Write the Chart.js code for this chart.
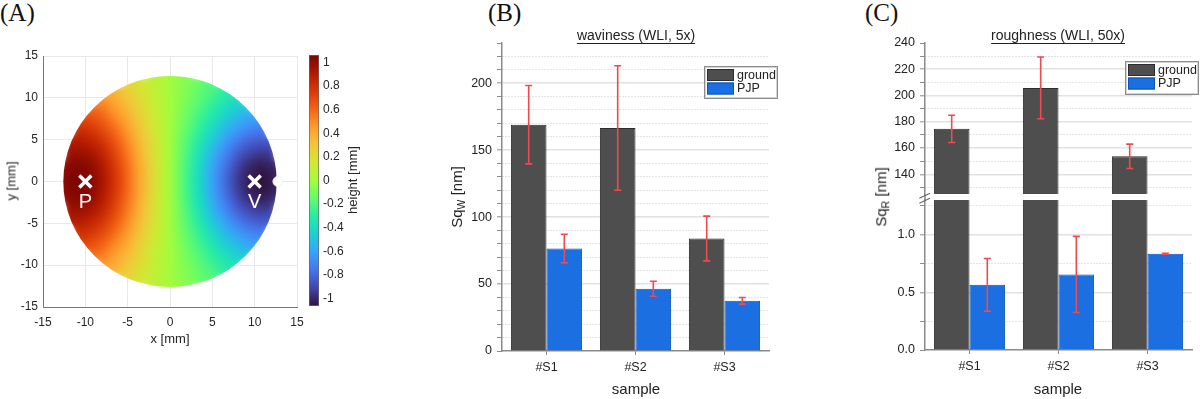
<!DOCTYPE html>
<html>
<head>
<meta charset="utf-8">
<script src="https://cdn.jsdelivr.net/npm/chart.js@4.4.0/dist/chart.umd.min.js"></script>
<style>
    body { margin: 0; background: #fff; }
    #wrap { position: relative; width: 1200px; height: 399px; overflow: hidden; font-family: "Liberation Sans", Arial, sans-serif; color: #222; }
    canvas { position: absolute; }
    .txt { position: absolute; white-space: nowrap; transform: translate(-50%, -50%); line-height: 1; }
    .rot { transform: translate(-50%, -50%) rotate(-90deg); }
    .panel { position: absolute; font-family: "Liberation Serif", "Times New Roman", serif; font-size: 25px; line-height: 1; color: #111; }
    .title { font-size: 14px; text-decoration: underline; text-underline-offset: 3px; }
    .axt { font-size: 15px; }
    .axa { font-size: 13px; color: #262626; }
    sub { font-size: 70%; vertical-align: -3px; }
</style>
</head>
<body>
<div id="wrap">
    <canvas id="cA" width="312" height="290" style="left:0;top:44px"></canvas>
    <canvas id="cBar" width="100" height="290" style="left:300px;top:44px"></canvas>
    <canvas id="cB" width="345" height="369" style="left:440px;top:30px"></canvas>
    <canvas id="cC1" width="340" height="170" style="left:860px;top:30px"></canvas>
    <canvas id="cC2" width="340" height="209" style="left:860px;top:190px"></canvas>

    <div class="panel" style="left:0;top:0">(A)</div>
    <div class="panel" style="left:488px;top:0">(B)</div>
    <div class="panel" style="left:865px;top:0">(C)</div>

    <div class="txt axa rot" style="left:11px;top:181px">y [mm]</div>
    <div class="txt axa" style="left:170px;top:338px">x [mm]</div>
    <div class="txt axa rot" style="left:352px;top:180px">height [mm]</div>

    <div class="txt title" style="left:636px;top:35px">waviness (WLI, 5x)</div>
    <div class="txt axt rot" style="left:458px;top:197px">Sq<sub>W</sub> [nm]</div>
    <div class="txt axt" style="left:636px;top:388px">sample</div>

    <div class="txt title" style="left:1058px;top:35px">roughness (WLI, 50x)</div>
    <div class="txt axt rot" style="left:882px;top:197px">Sq<sub>R</sub> [nm]</div>
    <div class="txt axt" style="left:1058px;top:388px">sample</div>
</div>

<script>
// ---- panel A: wafer height map, rows from y = 13 mm down to y = -13 mm, 1 mm grid, centred on x = 0
const gridTop = 13;
const gridStep = 1;
const waferRadius = 12.6;
const heightRows = [
    [0.08, 0.04, 0, -0.03, -0.07],
    [0.24, 0.19, 0.14, 0.09, 0.05, 0, -0.04, -0.07, -0.11, -0.15, -0.19],
    [0.37, 0.32, 0.27, 0.21, 0.16, 0.10, 0.05, 0, -0.04, -0.08, -0.13, -0.17, -0.21, -0.26, -0.30],
    [0.47, 0.42, 0.36, 0.30, 0.24, 0.18, 0.12, 0.06, 0, -0.05, -0.09, -0.14, -0.19, -0.24, -0.29, -0.34, -0.38],
    [0.57, 0.53, 0.47, 0.40, 0.34, 0.27, 0.20, 0.13, 0.06, 0, -0.05, -0.11, -0.16, -0.22, -0.28, -0.34, -0.39, -0.44, -0.48],
    [0.67, 0.64, 0.59, 0.52, 0.45, 0.38, 0.30, 0.22, 0.14, 0.07, 0, -0.06, -0.12, -0.19, -0.25, -0.32, -0.38, -0.45, -0.50, -0.55, -0.58],
    [0.76, 0.74, 0.70, 0.65, 0.58, 0.50, 0.42, 0.33, 0.24, 0.16, 0.08, 0, -0.07, -0.14, -0.21, -0.29, -0.36, -0.44, -0.51, -0.57, -0.62, -0.65, -0.67],
    [0.82, 0.81, 0.77, 0.71, 0.64, 0.55, 0.46, 0.36, 0.27, 0.17, 0.09, 0, -0.08, -0.16, -0.24, -0.32, -0.41, -0.50, -0.58, -0.64, -0.70, -0.73, -0.75],
    [0.88, 0.89, 0.87, 0.83, 0.77, 0.69, 0.60, 0.50, 0.39, 0.29, 0.19, 0.09, 0, -0.09, -0.18, -0.27, -0.36, -0.46, -0.55, -0.64, -0.72, -0.78, -0.81, -0.83, -0.82],
    [0.93, 0.94, 0.93, 0.89, 0.83, 0.74, 0.64, 0.53, 0.42, 0.31, 0.20, 0.10, 0, -0.10, -0.19, -0.29, -0.40, -0.51, -0.61, -0.71, -0.79, -0.85, -0.89, -0.90, -0.89],
    [0.98, 0.99, 0.98, 0.94, 0.87, 0.78, 0.67, 0.56, 0.44, 0.32, 0.21, 0.10, 0, -0.10, -0.21, -0.32, -0.43, -0.54, -0.66, -0.76, -0.85, -0.91, -0.95, -0.97, -0.95],
    [0.97, 1.01, 1.03, 1.02, 0.98, 0.91, 0.81, 0.70, 0.58, 0.46, 0.34, 0.22, 0.11, 0, -0.11, -0.22, -0.33, -0.45, -0.58, -0.69, -0.80, -0.90, -0.97, -1.01, -1.02, -1.00, -0.96],
    [0.99, 1.03, 1.05, 1.04, 1.00, 0.93, 0.83, 0.72, 0.60, 0.47, 0.35, 0.23, 0.11, 0, -0.11, -0.23, -0.34, -0.47, -0.59, -0.72, -0.83, -0.93, -1.00, -1.04, -1.05, -1.03, -0.99],
    [1.00, 1.04, 1.06, 1.05, 1.01, 0.94, 0.84, 0.73, 0.60, 0.47, 0.35, 0.23, 0.11, 0, -0.11, -0.23, -0.35, -0.47, -0.60, -0.73, -0.84, -0.94, -1.01, -1.05, -1.06, -1.04, -1.00],
    [0.99, 1.03, 1.05, 1.04, 1.00, 0.93, 0.83, 0.72, 0.60, 0.47, 0.35, 0.23, 0.11, 0, -0.11, -0.23, -0.34, -0.47, -0.59, -0.72, -0.83, -0.93, -1.00, -1.04, -1.05, -1.03, -0.99],
    [0.97, 1.01, 1.03, 1.02, 0.98, 0.91, 0.81, 0.70, 0.58, 0.46, 0.34, 0.22, 0.11, 0, -0.11, -0.22, -0.33, -0.45, -0.58, -0.69, -0.80, -0.90, -0.97, -1.01, -1.02, -1.00, -0.96],
    [0.98, 0.99, 0.98, 0.94, 0.87, 0.78, 0.67, 0.56, 0.44, 0.32, 0.21, 0.10, 0, -0.10, -0.21, -0.32, -0.43, -0.54, -0.66, -0.76, -0.85, -0.91, -0.95, -0.97, -0.95],
    [0.93, 0.94, 0.93, 0.89, 0.83, 0.74, 0.64, 0.53, 0.42, 0.31, 0.20, 0.10, 0, -0.10, -0.19, -0.29, -0.40, -0.51, -0.61, -0.71, -0.79, -0.85, -0.89, -0.90, -0.89],
    [0.88, 0.89, 0.87, 0.83, 0.77, 0.69, 0.60, 0.50, 0.39, 0.29, 0.19, 0.09, 0, -0.09, -0.18, -0.27, -0.36, -0.46, -0.55, -0.64, -0.72, -0.78, -0.81, -0.83, -0.82],
    [0.82, 0.81, 0.77, 0.71, 0.64, 0.55, 0.46, 0.36, 0.27, 0.17, 0.09, 0, -0.08, -0.16, -0.24, -0.32, -0.41, -0.50, -0.58, -0.64, -0.70, -0.73, -0.75],
    [0.76, 0.74, 0.70, 0.65, 0.58, 0.50, 0.42, 0.33, 0.24, 0.16, 0.08, 0, -0.07, -0.14, -0.21, -0.29, -0.36, -0.44, -0.51, -0.57, -0.62, -0.65, -0.67],
    [0.67, 0.64, 0.59, 0.52, 0.45, 0.38, 0.30, 0.22, 0.14, 0.07, 0, -0.06, -0.12, -0.19, -0.25, -0.32, -0.38, -0.45, -0.50, -0.55, -0.58],
    [0.57, 0.53, 0.47, 0.40, 0.34, 0.27, 0.20, 0.13, 0.06, 0, -0.05, -0.11, -0.16, -0.22, -0.28, -0.34, -0.39, -0.44, -0.48],
    [0.47, 0.42, 0.36, 0.30, 0.24, 0.18, 0.12, 0.06, 0, -0.05, -0.09, -0.14, -0.19, -0.24, -0.29, -0.34, -0.38],
    [0.37, 0.32, 0.27, 0.21, 0.16, 0.10, 0.05, 0, -0.04, -0.08, -0.13, -0.17, -0.21, -0.26, -0.30],
    [0.24, 0.19, 0.14, 0.09, 0.05, 0, -0.04, -0.07, -0.11, -0.15, -0.19],
    [0.08, 0.04, 0, -0.03, -0.07]
];
const markerX = [-10, 10];
const markerLabels = ["P", "V"];
const markerLabelY = -2.5;
const notchX = 12.75;
const colorMin = -1.063;
const colorMax = 1.063;
const turboColors = ["#30123b", "#4145ab", "#4675ed", "#39a2fc", "#1bcfd4", "#24eca6", "#61fc6c", "#a4fc3b",
    "#d1e834", "#f3c63a", "#fe9b2d", "#f36315", "#d93806", "#b11901", "#7a0403"];

// ---- panel B / C: bar values and error half-widths
const samples = ["#S1", "#S2", "#S3"];
const wavGround = [169, 166.5, 84];
const wavGroundErr = [29.3, 46.5, 16.7];
const wavPjp = [76.5, 46.5, 37.5];
const wavPjpErr = [10.7, 5.6, 2.5];
const wavRange = [0, 230];

const rouGround = [174.6, 205.8, 153.7];
const rouGroundErr = [10.4, 23.5, 9.3];
const rouPjp = [0.565, 0.655, 0.835];
const rouPjpErr = [0.228, 0.33, 0.004];
const rouUpperRange = [125, 240];
const rouLowerRange = [0, 1.3];

const groundFill = "#4e4e4e", groundEdge = "#2c2c2c";
const pjpFill = "#1b6fe0", pjpEdge = "#0d53bd";
const errColor = "#ee4a4f";
const axisGrey = "#8a8a8a";

Chart.defaults.font.family = '"Liberation Sans", Arial, sans-serif';
Chart.defaults.color = "#222";

function hexRgb(h) {
    return [parseInt(h.slice(1, 3), 16), parseInt(h.slice(3, 5), 16), parseInt(h.slice(5, 7), 16)];
}

function turbo(v) {
    let t = (v - colorMin) / (colorMax - colorMin);
    t = Math.min(1, Math.max(0, t)) * (turboColors.length - 1);
    let i = Math.min(turboColors.length - 2, Math.floor(t));
    let f = t - i;
    let a = hexRgb(turboColors[i]), b = hexRgb(turboColors[i + 1]);
    let c = a.map((x, k) => Math.round(x + (b[k] - x) * f));
    return `rgb(${c[0]},${c[1]},${c[2]})`;
}

function near(v, step) {
    return Math.abs(v / step - Math.round(v / step)) < 1e-6;
}

// fixed axis size, no extra room for edge labels
function fixSize(s, w, h) {
    if (w !== undefined) s.width = w;
    if (h !== undefined) s.height = h;
    s.paddingLeft = 0; s.paddingRight = 0; s.paddingTop = 0; s.paddingBottom = 0;
}

let heatPoints = [];
heightRows.forEach((row, r) => {
    let y = gridTop - r * gridStep;
    let x0 = -(row.length - 1) / 2 * gridStep;
    row.forEach((v, c) => heatPoints.push({ x: x0 + c * gridStep, y: y, v: v }));
});

// the map cells are drawn by Chart.js, then softened and cut to the wafer outline
const waferClip = {
    id: "waferClip",
    beforeDatasetDraw(chart, args) {
        let ds = chart.data.datasets[args.index];
        if (!ds.waferRadius) return;
        let c = chart.canvas;
        let bg = document.createElement("canvas");
        bg.width = c.width; bg.height = c.height;
        bg.getContext("2d").drawImage(c, 0, 0);
        chart.$bgLayer = bg;
    },
    afterDatasetDraw(chart, args, opts) {
        let ds = chart.data.datasets[args.index];
        if (!ds.waferRadius) return;
        let c = chart.canvas, ctx = chart.ctx, dpr = chart.currentDevicePixelRatio || 1;
        let cells = document.createElement("canvas");
        cells.width = c.width; cells.height = c.height;
        cells.getContext("2d").drawImage(c, 0, 0);

        let xs = chart.scales.x, ys = chart.scales.y;
        let cx = xs.getPixelForValue(0), cy = ys.getPixelForValue(0);
        let rx = xs.getPixelForValue(ds.waferRadius) - cx;
        let ry = cy - ys.getPixelForValue(ds.waferRadius);

        ctx.save();
        ctx.setTransform(1, 0, 0, 1, 0, 0);
        ctx.clearRect(0, 0, c.width, c.height);
        ctx.drawImage(chart.$bgLayer, 0, 0);
        ctx.beginPath();
        ctx.ellipse(cx * dpr, cy * dpr, rx * dpr, ry * dpr, 0, 0, Math.PI * 2);
        ctx.clip();
        ctx.filter = "blur(" + (opts.blur * dpr) + "px)";
        ctx.drawImage(cells, 0, 0);
        ctx.restore();
    }
};

const markerText = {
    id: "markerText",
    afterDatasetsDraw(chart, args, opts) {
        let xs = chart.scales.x, ys = chart.scales.y, ctx = chart.ctx;
        ctx.save();
        ctx.fillStyle = "#fff";
        ctx.font = '20px "Liberation Sans", Arial, sans-serif';
        ctx.textAlign = "center";
        ctx.textBaseline = "middle";
        opts.x.forEach((x, i) => {
            ctx.fillText(opts.labels[i], xs.getPixelForValue(x), ys.getPixelForValue(opts.y));
        });
        ctx.restore();
    }
};

new Chart(document.getElementById("cA"), {
    type: "scatter",
    data: {
        datasets: [
            {
                data: markerX.map(x => ({ x: x, y: 0 })),
                order: 1,
                pointStyle: "crossRot",
                pointRadius: 8.5,
                borderColor: "#fff",
                pointBorderWidth: 3.5
            },
            {
                data: [{ x: notchX, y: 0 }],
                order: 2,
                pointStyle: "circle",
                pointRadius: 5,
                backgroundColor: "#fff",
                borderColor: "#f2f2f2",
                pointBorderWidth: 1
            },
            {
                data: heatPoints,
                order: 3,
                waferRadius: waferRadius,
                pointStyle: "rect",
                pointBorderWidth: 0,
                pointRadius: ctx => {
                    let xs = ctx.chart.scales.x;
                    return Math.abs(xs.getPixelForValue(gridStep) - xs.getPixelForValue(0)) * 0.78;
                },
                pointBackgroundColor: ctx => ctx.raw ? turbo(ctx.raw.v) : "#fff"
            }
        ]
    },
    options: {
        responsive: false,
        animation: false,
        events: [],
        layout: { padding: { top: 10, right: 15, left: 0, bottom: 0 } },
        plugins: {
            legend: { display: false },
            tooltip: { enabled: false },
            markerText: { x: markerX, labels: markerLabels, y: markerLabelY },
            waferClip: { blur: 3.5 }
        },
        scales: {
            x: {
                min: -15, max: 15,
                afterFit: s => fixSize(s, undefined, 27),
                ticks: { stepSize: 5, padding: 8, color: "#262626", font: { size: 12 } },
                grid: { color: "#e8e8e8", drawTicks: false },
                border: { color: "#777", width: 1 }
            },
            y: {
                min: -15, max: 15,
                afterFit: s => fixSize(s, 43),
                ticks: { stepSize: 5, padding: 5, color: "#262626", font: { size: 12 } },
                grid: { color: "#e8e8e8", drawTicks: false },
                border: { color: "#777", width: 1 }
            }
        }
    },
    plugins: [waferClip, markerText]
});

// colour bar as a single floating bar with the turbo gradient
new Chart(document.getElementById("cBar"), {
    type: "bar",
    data: {
        labels: ["height"],
        datasets: [{
            data: [[colorMin, colorMax]],
            categoryPercentage: 1,
            barPercentage: 1,
            borderWidth: 1,
            borderColor: "#666",
            borderSkipped: false,
            backgroundColor: ctx => {
                let ca = ctx.chart.chartArea;
                if (!ca) return "#888";
                let g = ctx.chart.ctx.createLinearGradient(0, ca.bottom, 0, ca.top);
                turboColors.forEach((c, i) => g.addColorStop(i / (turboColors.length - 1), c));
                return g;
            }
        }]
    },
    options: {
        responsive: false,
        animation: false,
        events: [],
        layout: { padding: { top: 11, left: 9, right: 0, bottom: 28 } },
        plugins: { legend: { display: false }, tooltip: { enabled: false } },
        scales: {
            x: { display: false },
            y: {
                position: "right",
                min: colorMin, max: colorMax,
                afterFit: s => fixSize(s, 81),
                grid: { display: false, drawTicks: false },
                border: { display: false },
                ticks: {
                    stepSize: 0.2,
                    includeBounds: false,
                    padding: 4,
                    color: "#262626",
                    font: { size: 12 },
                    callback: v => near(v, 0.2) ? String(Math.round(v * 10) / 10) : ""
                }
            }
        }
    }
});

// ---- bar chart helpers
const errorBars = {
    id: "errorBars",
    afterDatasetsDraw(chart) {
        let ctx = chart.ctx, ys = chart.scales.y;
        chart.data.datasets.forEach((ds, i) => {
            if (!ds.errors) return;
            let meta = chart.getDatasetMeta(i);
            meta.data.forEach((bar, j) => {
                let m = ds.data[j], e = ds.errors[j];
                if (m < ys.min || m > ys.max) return;
                let top = ys.getPixelForValue(m + e), bot = ys.getPixelForValue(m - e);
                ctx.save();
                ctx.strokeStyle = errColor;
                ctx.lineWidth = 1.6;
                ctx.beginPath();
                ctx.moveTo(bar.x, top); ctx.lineTo(bar.x, bot);
                ctx.moveTo(bar.x - 3.5, top); ctx.lineTo(bar.x + 3.5, top);
                ctx.moveTo(bar.x - 3.5, bot); ctx.lineTo(bar.x + 3.5, bot);
                ctx.stroke();
                ctx.restore();
            });
        });
    }
};

const boxLegend = {
    id: "boxLegend",
    afterDraw(chart, args, o) {
        if (!o.show) return;
        let ctx = chart.ctx, ca = chart.chartArea;
        let left = Math.round(ca.right + o.dx), top = Math.round(ca.top + o.dy);
        ctx.save();
        ctx.fillStyle = "#fff";
        ctx.fillRect(left, top, o.w, o.h);
        ctx.lineWidth = 1;
        ctx.strokeStyle = "#8c8c8c";
        ctx.strokeRect(left + 0.5, top + 0.5, o.w, o.h);
        ctx.strokeStyle = "#d4d4d4";
        ctx.strokeRect(left + 1.5, top + 1.5, o.w - 2, o.h - 2);
        ctx.font = '12.5px "Liberation Sans", Arial, sans-serif';
        ctx.textBaseline = "middle";
        chart.data.datasets.forEach((ds, i) => {
            let y = top + 3 + i * 13.5;
            ctx.fillStyle = ds.backgroundColor;
            ctx.fillRect(left + 3, y, 27, 12);
            ctx.strokeStyle = ds.borderColor;
            ctx.strokeRect(left + 3.5, y + 0.5, 26, 11);
            ctx.fillStyle = "#222";
            ctx.fillText(ds.label, left + 33, y + 6.5);
        });
        ctx.restore();
    }
};

const axisBreak = {
    id: "axisBreak",
    afterDraw(chart, args, o) {
        if (!o.show) return;
        let ctx = chart.ctx, ca = chart.chartArea;
        let x = ca.left, y = ca.top;
        ctx.save();
        ctx.strokeStyle = axisGrey;
        ctx.lineWidth = 1.5;
        ctx.beginPath();
        ctx.moveTo(x, y - o.gap); ctx.lineTo(x, y);
        ctx.stroke();
        ctx.strokeStyle = "#666";
        ctx.lineWidth = 1.1;
        ctx.beginPath();
        ctx.moveTo(x - 5.7, y - 1.7); ctx.lineTo(x + 5, y - 6.7);
        ctx.moveTo(x - 5.7, y + 3.3); ctx.lineTo(x + 5, y - 1.7);
        ctx.stroke();
        ctx.restore();
    }
};

function makeDatasets(ground, groundErr, pjp, pjpErr) {
    return [
        { label: "ground", data: ground, errors: groundErr, backgroundColor: groundFill, borderColor: groundEdge, borderWidth: 1, clip: 0 },
        { label: "PJP", data: pjp, errors: pjpErr, backgroundColor: pjpFill, borderColor: pjpEdge, borderWidth: 1, clip: 0 }
    ];
}

// y axis with labelled major ticks, dotted minor grid, minor tick marks
function yAxis(range, step, major, minLabel, fmt, width) {
    let isMinor = v => near(v, step) && v > range[0] && v < range[1];
    let isMajor = v => isMinor(v) && near(v, major) && v >= minLabel;
    return {
        min: range[0], max: range[1],
        afterFit: s => fixSize(s, width),
        ticks: {
            stepSize: step,
            includeBounds: false,
            padding: 5,
            color: "#222",
            font: { size: 12.5 },
            autoSkip: false,
            callback: v => (near(v, major) && v >= minLabel) ? fmt(v) : ""
        },
        grid: {
            color: c => !c.tick ? "transparent" : isMajor(c.tick.value) ? "#e2e2e2" : isMinor(c.tick.value) ? "#c9c9c9" : "transparent",
            lineWidth: c => c.tick && isMajor(c.tick.value) ? 1.6 : 1,
            tickColor: c => c.tick && near(c.tick.value, step) ? axisGrey : "transparent",
            tickLength: 5,
            tickWidth: 1
        },
        border: {
            color: axisGrey,
            width: 1.5,
            dash: c => c.tick && !isMajor(c.tick.value) ? [1, 2] : []
        }
    };
}

function xAxis(show, height) {
    if (!show) return { display: false };
    return {
        afterFit: s => fixSize(s, undefined, height),
        ticks: { padding: 5, color: "#222", font: { size: 12.5 } },
        grid: { offset: false, drawOnChartArea: false, tickLength: 4, tickColor: axisGrey },
        border: { color: axisGrey, width: 1.5 }
    };
}

function barOptions(y, x, padding, extra) {
    return {
        responsive: false,
        animation: false,
        events: [],
        layout: { padding: padding },
        datasets: { bar: { categoryPercentage: 0.8, barPercentage: 1.0 } },
        plugins: Object.assign({ legend: { display: false }, tooltip: { enabled: false } }, extra),
        scales: { x: x, y: y }
    };
}

// ---- panel B
new Chart(document.getElementById("cB"), {
    type: "bar",
    data: { labels: samples, datasets: makeDatasets(wavGround, wavGroundErr, wavPjp, wavPjpErr) },
    options: barOptions(
        yAxis(wavRange, 10, 50, 0, v => String(v), 62),
        xAxis(true, 48),
        { top: 13, right: 16, left: 0, bottom: 0 },
        { boxLegend: { show: true, dx: -65, dy: 23, w: 73, h: 32 } }
    ),
    plugins: [errorBars, boxLegend]
});

// ---- panel C, upper segment (ground) and lower segment (PJP)
new Chart(document.getElementById("cC1"), {
    type: "bar",
    data: { labels: samples, datasets: makeDatasets(rouGround, rouGroundErr, rouPjp, rouPjpErr) },
    options: barOptions(
        yAxis(rouUpperRange, 10, 20, 140, v => String(v), 65),
        xAxis(false),
        { top: 13, right: 8, left: 0, bottom: 6 },
        { boxLegend: { show: true, dx: -67, dy: 18, w: 73, h: 33 } }
    ),
    plugins: [errorBars, boxLegend]
});

new Chart(document.getElementById("cC2"), {
    type: "bar",
    data: { labels: samples, datasets: makeDatasets(rouGround, rouGroundErr, rouPjp, rouPjpErr) },
    options: barOptions(
        yAxis(rouLowerRange, 0.25, 0.5, 0, v => v.toFixed(1), 65),
        xAxis(true, 49),
        { top: 10, right: 8, left: 0, bottom: 0 },
        { axisBreak: { show: true, gap: 6 } }
    ),
    plugins: [errorBars, axisBreak]
});
</script>
</body>
</html>
